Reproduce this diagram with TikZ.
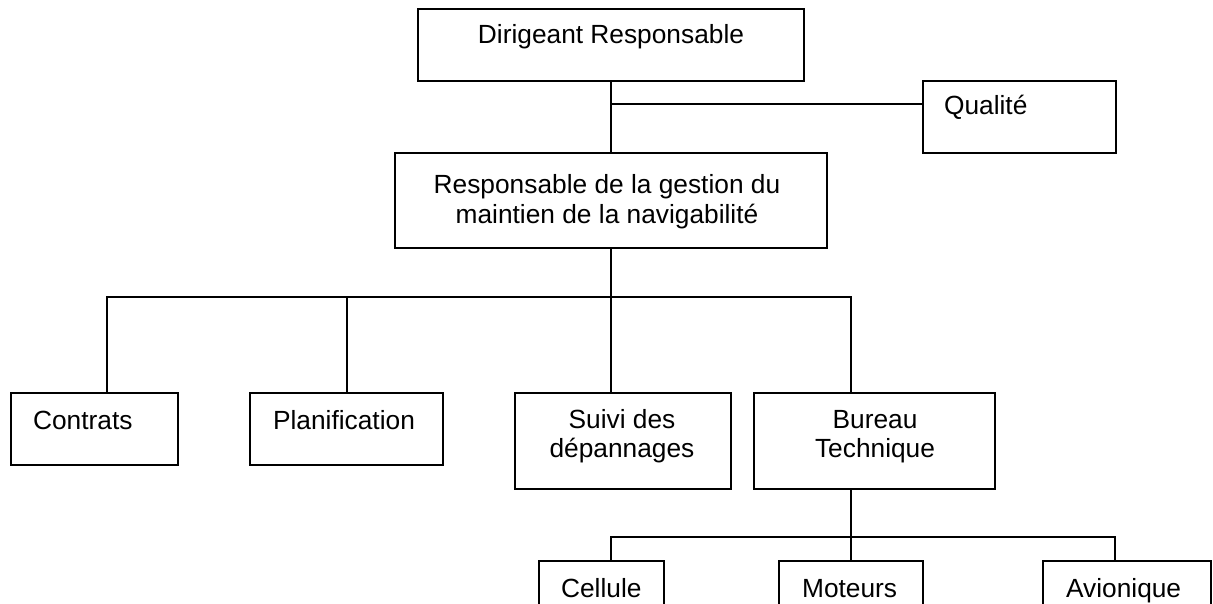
\documentclass[tikz,border=0pt]{standalone}
\usepackage{fontspec}
\setmainfont{Liberation Sans}
\begin{document}
\begin{tikzpicture}[x=1pt,y=-1pt,line width=2.2pt,line join=miter,
  box/.style={draw,rectangle,inner sep=0pt,outer sep=0pt,anchor=north west},
  lbl/.style={font=\fontsize{26.3}{30}\selectfont,inner sep=0pt,anchor=base},
  lbll/.style={lbl,anchor=base west}]
\useasboundingbox (0,0) rectangle (1213,604);
% boxes
\node[box,minimum width=386pt,minimum height=72pt] (dir)   at (418,9)   {};
\node[box,minimum width=193pt,minimum height=72pt] (qual)  at (923,81)  {};
\node[box,minimum width=432pt,minimum height=95pt] (resp)  at (395,153) {};
\node[box,minimum width=167pt,minimum height=72pt] (contr) at (11,393)  {};
\node[box,minimum width=193pt,minimum height=72pt] (plan)  at (250,393) {};
\node[box,minimum width=216pt,minimum height=96pt] (suivi) at (515,393) {};
\node[box,minimum width=241pt,minimum height=96pt] (bur)   at (754,393) {};
\node[box,minimum width=125pt,minimum height=72pt] (cell)  at (539,561) {};
\node[box,minimum width=144pt,minimum height=72pt] (mot)   at (779,561) {};
\node[box,minimum width=168pt,minimum height=72pt] (avi)   at (1043,561){};
% texts
\node[lbl]  (dirt)   at (611,44)  {Dirigeant Responsable};
\node[lbll] (qualt)  at (943,115) {Qualité};
\node[lbl]  (respa)  at (607,194) {Responsable de la gestion du};
\node[lbl]  (respb)  at (607,224) {maintien de la navigabilité};
\node[lbll] (contrt) at (32,429)  {Contrats};
\node[lbll] (plant)  at (272,429) {Planification};
\node[lbl]  (suivia) at (622,428) {Suivi des};
\node[lbl]  (suivib) at (622,457) {dépannages};
\node[lbl]  (bura)   at (875,428) {Bureau};
\node[lbl]  (burb)   at (875,457) {Technique};
\node[lbll] (cellt)  at (560,597) {Cellule};
\node[lbll] (mott)   at (801,597) {Moteurs};
\node[lbll] (avit)   at (1065,597){Avionique};
% connector points
\coordinate (qj) at (611,104);
\coordinate (b1) at (611,297);
\coordinate (bL) at (107,297);
\coordinate (bP) at (347,297);
\coordinate (bR) at (851,297);
\coordinate (c2) at (851,537);
\coordinate (cL) at (611,537);
\coordinate (cR) at (1115,537);
% connectors
\draw (dir.south) -- (resp.north);
\draw (qj) -- (qj -| qual.west);
\draw (resp.south) -- (b1);
\draw (bL |- contr.north) -- (bL) -- (bR) -- (bR |- bur.north);
\draw (bP) -- (bP |- plan.north);
\draw (b1) -- (b1 |- suivi.north);
\draw (c2 |- bur.south) -- (c2);
\draw (cL |- cell.north) -- (cL) -- (cR) -- (cR |- avi.north);
\draw (c2) -- (c2 |- mot.north);
\end{tikzpicture}
\end{document}
